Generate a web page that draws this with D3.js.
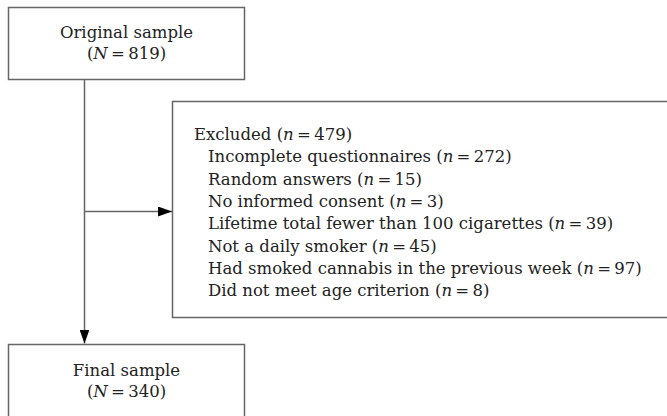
<!DOCTYPE html>
<html lang="en">
  <head>
    <meta charset="UTF-8" />
    <title>Sample flow</title>
    <script src="https://d3js.org/d3.v7.min.js"></script>
    <style>
      body { margin: 0; background: #fff; }
      text { font-family: 'DejaVu Serif', serif; font-size: 16.5px; fill: #222; }
    </style>
  </head>

  <body>
    <div id="graph"></div>
    <script>
      // data
      const stageLabels = ['Original sample', 'Final sample']
      const stageCounts = [819, 340]
      const excludedTotal = 479
      const reasons = [
        'Incomplete questionnaires',
        'Random answers',
        'No informed consent',
        'Lifetime total fewer than 100 cigarettes',
        'Not a daily smoker',
        'Had smoked cannabis in the previous week',
        'Did not meet age criterion'
      ]
      const reasonCounts = [272, 15, 3, 39, 45, 97, 8]

      const W = 667, H = 416
      const svg = d3.select('#graph').append('svg').attr('width', W).attr('height', H)

      const lineColor = '#666'
      const eq = '\u2009=\u2009'

      // arrow head
      svg.append('defs').append('marker')
        .attr('id', 'arrow')
        .attr('viewBox', '0 0 14 10')
        .attr('refX', 14).attr('refY', 5)
        .attr('markerWidth', 14).attr('markerHeight', 10)
        .attr('markerUnits', 'userSpaceOnUse')
        .attr('orient', 'auto')
        .append('path').attr('d', 'M0,0 L14,5 L0,10 Z').attr('fill', '#000')

      // top / bottom boxes
      const stageBoxes = [
        { x: 8.5, y: 7.5, w: 236, h: 72, t: 38 },
        { x: 8.5, y: 344.5, w: 236, h: 90, t: 376 }
      ]
      const stageG = svg.selectAll('g.stage').data(stageLabels).join('g').attr('class', 'stage')
      stageG.append('rect')
        .attr('x', (_, i) => stageBoxes[i].x)
        .attr('y', (_, i) => stageBoxes[i].y)
        .attr('width', (_, i) => stageBoxes[i].w)
        .attr('height', (_, i) => stageBoxes[i].h)
        .attr('fill', 'none').attr('stroke', lineColor).attr('stroke-width', 1.5)
      stageG.append('text')
        .attr('x', (_, i) => stageBoxes[i].x + stageBoxes[i].w / 2)
        .attr('y', (_, i) => stageBoxes[i].t)
        .attr('text-anchor', 'middle')
        .text((d) => d)
      const countText = stageG.append('text')
        .attr('x', (_, i) => stageBoxes[i].x + stageBoxes[i].w / 2)
        .attr('y', (_, i) => stageBoxes[i].t + 21)
        .attr('text-anchor', 'middle')
      countText.append('tspan').text('(')
      countText.append('tspan').attr('font-style', 'italic').text('N')
      countText.append('tspan').text((_, i) => eq + stageCounts[i] + ')')

      // excluded box
      const ex = { x: 172.5, y: 101.5, w: 500, h: 216 }
      svg.append('rect')
        .attr('x', ex.x).attr('y', ex.y).attr('width', ex.w).attr('height', ex.h)
        .attr('fill', 'none').attr('stroke', lineColor).attr('stroke-width', 1.5)

      const yLine = d3.scaleLinear().domain([0, reasons.length]).range([140, 140 + 22.3 * reasons.length])

      const head = svg.append('text').attr('x', 194).attr('y', yLine(0))
      head.append('tspan').text('Excluded (')
      head.append('tspan').attr('font-style', 'italic').text('n')
      head.append('tspan').text(eq + excludedTotal + ')')

      const items = svg.selectAll('text.reason').data(reasons).join('text')
        .attr('class', 'reason')
        .attr('x', 208)
        .attr('y', (_, i) => yLine(i + 1))
      items.append('tspan').text((d) => d + ' (')
      items.append('tspan').attr('font-style', 'italic').text('n')
      items.append('tspan').text((_, i) => eq + reasonCounts[i] + ')')

      // connectors
      const cx = 84.5
      svg.append('line')
        .attr('x1', cx).attr('y1', 79.5).attr('x2', cx).attr('y2', 343.5)
        .attr('stroke', lineColor).attr('stroke-width', 1.5)
        .attr('marker-end', 'url(#arrow)')
      svg.append('line')
        .attr('x1', cx).attr('y1', 211.5).attr('x2', ex.x - 0.5).attr('y2', 211.5)
        .attr('stroke', lineColor).attr('stroke-width', 1.5)
        .attr('marker-end', 'url(#arrow)')
    </script>
  </body>
</html>
